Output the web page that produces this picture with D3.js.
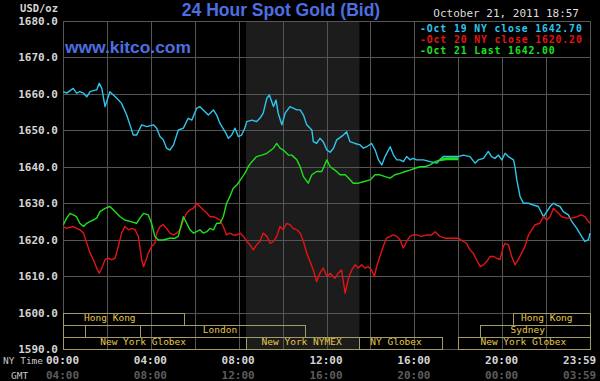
<!DOCTYPE html>
<html><head><meta charset="utf-8">
<script src="https://cdn.jsdelivr.net/npm/d3@7/dist/d3.min.js"></script>
<style>body{margin:0;background:#000;}svg{display:block}</style>
</head><body>
<svg id="c" width="600" height="381"></svg>
<script>
// ---------- data ----------
const titleText = "24 Hour Spot Gold (Bid)";
const siteText = "www.kitco.com";
const stampText = "October 21, 2011 18:57";
const unitText = "USD/oz";
const yTicks = [1590, 1600, 1610, 1620, 1630, 1640, 1650, 1660, 1670, 1680];
const xGrid = [0, 120, 240, 360, 480, 600, 720, 840, 960, 1080, 1200, 1320, 1440]; // minutes, NY time
const xTicks = [0, 240, 480, 720, 960, 1200, 1439];
const gmtOffset = 240;
const nymexWindow = [500, 810];
const legendLabels = ["Oct 19 NY close 1642.70", "Oct 20 NY close 1620.20", "Oct 21 Last 1642.00"];
// sessions: [label, row, start, end, labelAt] (minutes, NY time)
const sessions = [
  ["Hong Kong", 0, 0, 330, 128],
  ["", 1, 0, 60, 30],
  ["London", 1, 210, 660, 429],
  ["New York Globex", 2, 0, 500, 219],
  ["New York NYMEX", 2, 500, 810, 652],
  ["NY Globex", 2, 810, 1035, 910],
  ["New York Globex", 2, 1080, 1440, 1258],
  ["Sydney", 1, 1140, 1440, 1270],
  ["Hong Kong", 0, 1230, 1440, 1322]
];
// [minute, price]
const oct19 = [[1,1660.6],[10,1660.2],[28,1661.5],[37,1660.2],[46,1660.6],[56,1660.2],[65,1659.2],[74,1660.6],[83,1660.9],[92,1661.1],[99,1662.9],[106,1661.5],[115,1656.5],[128,1660.6],[147,1658.8],[160,1657.4],[174,1654.2],[183,1651.5],[192,1648.7],[201,1648.7],[215,1651.5],[229,1651.0],[247,1651.5],[256,1650.6],[265,1648.3],[274,1647.4],[283,1645.1],[292,1644.6],[302,1646.0],[315,1650.1],[329,1650.6],[342,1653.3],[352,1652.8],[365,1656.0],[374,1656.5],[388,1655.1],[397,1654.2],[411,1655.6],[420,1654.2],[429,1651.9],[443,1649.6],[452,1647.8],[461,1648.7],[470,1650.6],[479,1648.3],[488,1648.7],[497,1650.6],[502,1652.4],[516,1652.8],[529,1652.4],[538,1653.3],[547,1654.7],[557,1658.8],[564,1659.7],[575,1656.5],[582,1658.3],[588,1654.7],[598,1651.5],[607,1654.7],[620,1656.5],[639,1655.6],[648,1655.6],[657,1654.2],[666,1651.5],[680,1650.1],[684,1646.9],[693,1646.4],[702,1647.8],[711,1646.9],[721,1644.6],[730,1644.0],[739,1645.1],[748,1647.4],[766,1648.7],[775,1649.6],[784,1646.9],[798,1646.4],[812,1646.0],[821,1645.1],[830,1645.5],[843,1646.4],[853,1644.6],[862,1641.9],[871,1640.5],[880,1642.8],[894,1645.5],[903,1643.2],[912,1641.9],[921,1641.9],[930,1641.4],[939,1642.8],[948,1641.9],[957,1642.3],[966,1641.9],[985,1641.9],[1003,1641.4],[1021,1641.0],[1030,1641.9],[1039,1642.8],[1058,1642.8],[1080,1642.8],[1094,1643.2],[1112,1642.8],[1126,1641.0],[1135,1641.9],[1149,1642.3],[1162,1644.2],[1171,1642.8],[1180,1642.3],[1190,1643.2],[1199,1641.9],[1208,1643.7],[1217,1642.8],[1231,1641.9],[1235,1640.0],[1240,1636.4],[1249,1631.8],[1258,1630.0],[1272,1630.0],[1285,1629.5],[1299,1629.1],[1313,1626.3],[1322,1627.7],[1331,1629.1],[1340,1630.0],[1349,1629.5],[1358,1629.1],[1367,1627.7],[1381,1626.8],[1390,1625.0],[1404,1623.1],[1417,1620.9],[1426,1619.5],[1436,1620.0],[1440,1621.8]];
const oct20 = [[1,1623.6],[10,1623.1],[28,1623.6],[46,1622.7],[56,1621.8],[65,1619.0],[74,1616.3],[83,1614.5],[92,1612.2],[99,1610.8],[106,1612.2],[115,1614.5],[124,1614.9],[133,1614.5],[142,1614.9],[151,1618.1],[160,1621.8],[169,1623.6],[179,1622.7],[188,1623.1],[197,1622.7],[206,1620.9],[215,1614.5],[220,1612.6],[227,1614.5],[233,1616.3],[242,1618.1],[251,1619.0],[256,1621.8],[265,1623.6],[274,1624.1],[283,1623.1],[292,1621.8],[302,1621.3],[311,1621.8],[320,1622.7],[329,1625.4],[338,1627.3],[347,1628.2],[356,1628.6],[365,1630.0],[374,1629.1],[383,1628.2],[393,1627.3],[402,1626.3],[411,1626.3],[420,1625.9],[429,1625.4],[438,1623.6],[447,1621.3],[456,1621.8],[465,1621.3],[475,1621.3],[484,1621.8],[493,1620.9],[502,1619.5],[511,1618.6],[520,1617.2],[529,1618.6],[538,1619.5],[547,1621.8],[557,1620.9],[566,1619.0],[575,1619.5],[584,1620.9],[593,1623.6],[602,1622.7],[611,1624.5],[620,1624.1],[629,1623.1],[639,1622.7],[648,1621.8],[657,1619.5],[666,1616.3],[675,1614.0],[684,1611.7],[693,1608.5],[702,1610.8],[711,1612.2],[721,1609.9],[730,1610.8],[743,1609.4],[752,1610.8],[761,1611.7],[771,1605.3],[780,1609.4],[789,1611.7],[798,1613.1],[807,1612.2],[816,1613.1],[825,1612.2],[834,1612.6],[843,1611.7],[851,1609.9],[857,1612.6],[866,1615.4],[875,1618.1],[884,1620.4],[894,1620.9],[903,1621.3],[912,1620.9],[921,1619.9],[930,1617.7],[939,1619.5],[948,1620.9],[957,1621.3],[966,1621.3],[980,1620.9],[994,1621.3],[1007,1621.3],[1017,1622.2],[1030,1620.9],[1044,1620.4],[1058,1620.4],[1080,1620.4],[1094,1619.5],[1103,1619.0],[1112,1617.2],[1121,1616.3],[1130,1614.5],[1140,1612.6],[1149,1613.1],[1158,1614.0],[1167,1615.4],[1176,1615.4],[1185,1614.9],[1194,1614.5],[1203,1618.1],[1208,1619.0],[1217,1618.6],[1226,1615.4],[1235,1613.1],[1244,1614.5],[1253,1616.3],[1262,1618.1],[1272,1621.3],[1281,1622.7],[1290,1624.1],[1303,1624.5],[1313,1626.3],[1322,1625.4],[1331,1626.3],[1340,1628.6],[1349,1627.7],[1363,1626.3],[1376,1625.9],[1390,1625.9],[1404,1626.3],[1417,1626.8],[1426,1626.3],[1436,1624.9],[1440,1624.5]];
const oct21 = [[1,1624.1],[10,1625.9],[19,1627.2],[28,1626.8],[37,1626.3],[46,1624.5],[56,1623.6],[65,1624.5],[74,1625.0],[83,1625.4],[92,1625.9],[101,1627.7],[115,1628.6],[128,1629.1],[142,1627.7],[156,1626.3],[169,1625.4],[183,1625.0],[201,1624.5],[210,1625.9],[220,1627.2],[233,1626.8],[242,1624.5],[251,1620.9],[261,1619.9],[274,1619.9],[292,1620.4],[306,1620.4],[315,1620.9],[324,1624.5],[329,1626.3],[338,1624.5],[347,1622.7],[356,1621.8],[365,1622.2],[374,1622.7],[383,1621.8],[393,1622.2],[402,1623.1],[411,1622.7],[420,1624.5],[429,1624.5],[438,1626.3],[447,1630.0],[456,1631.8],[465,1634.1],[475,1635.0],[488,1636.9],[497,1638.2],[506,1640.0],[516,1641.4],[529,1642.8],[543,1643.2],[557,1643.7],[575,1645.1],[584,1646.4],[593,1645.1],[602,1644.6],[616,1643.2],[625,1643.2],[639,1641.9],[648,1640.0],[657,1637.3],[670,1635.5],[680,1637.8],[693,1638.7],[707,1638.7],[721,1641.9],[730,1640.0],[743,1639.1],[757,1637.8],[771,1637.8],[780,1636.9],[793,1635.5],[807,1635.5],[821,1635.9],[839,1636.4],[853,1637.8],[866,1637.8],[880,1637.3],[894,1636.9],[907,1637.8],[921,1638.2],[935,1638.7],[948,1639.1],[962,1639.6],[976,1640.0],[989,1640.0],[1003,1640.5],[1017,1641.4],[1030,1641.9]];
const oct21Closed = [[1030,1641.9],[1048,1642.2],[1080,1642.2]];

// ---------- drawing ----------
const svg = d3.select("#c");
const W = 600, H = 381;
svg.append("rect").attr("width", W).attr("height", H).attr("fill", "#000");
const x = d3.scaleLinear().domain([0, 1440]).range([63, 590]);
const y = d3.scaleLinear().domain([1590, 1680]).range([349, 21]);
const mono = "'DejaVu Sans Mono', 'Liberation Mono', monospace";
const sans = "'Liberation Sans', Arial, sans-serif";
const gridColor = "#555";
const colors = ["#2ec6ee", "#e41414", "#1ee01e"];

// NYMEX shading
svg.append("rect")
  .attr("x", x(nymexWindow[0])).attr("y", y(1680))
  .attr("width", x(nymexWindow[1]) - x(nymexWindow[0]))
  .attr("height", y(1590) - y(1680))
  .attr("fill", "#1c1c1c");

// grid
const snap = v => Math.round(v) + 0.5;
svg.append("g").selectAll("line").data(xGrid).join("line")
  .attr("x1", d => snap(x(d))).attr("x2", d => snap(x(d)))
  .attr("y1", y(1680)).attr("y2", y(1590))
  .attr("stroke", gridColor).attr("stroke-width", 1);
svg.append("g").selectAll("line").data(yTicks).join("line")
  .attr("y1", d => snap(y(d))).attr("y2", d => snap(y(d)))
  .attr("x1", x(0)).attr("x2", x(1440))
  .attr("stroke", gridColor).attr("stroke-width", 1);

// y axis labels
const yAxis = d3.axisLeft(y).tickValues(yTicks).tickSize(0).tickPadding(5).tickFormat(d3.format(".1f"));
const gy = svg.append("g").attr("transform", `translate(${x(0)},0)`).call(yAxis);
gy.select(".domain").remove();
gy.selectAll("text").attr("font-family", mono).attr("font-weight", "bold")
  .attr("font-size", "11px").attr("fill", "#d4d4d4");

svg.append("text").attr("x", 58).attr("y", 12).attr("text-anchor", "end")
  .attr("font-family", mono).attr("font-weight", "bold").attr("font-size", "10.5px")
  .attr("fill", "#d4d4d4").text(unitText);

// x axis labels (NY time and GMT)
const fmt = m => { m = ((m % 1440) + 1440) % 1440; return d3.format("02")(Math.floor(m / 60)) + ":" + d3.format("02")(m % 60); };
function xRow(yPos, offset, color) {
  const ax = d3.axisBottom(x).tickValues(xTicks).tickSize(0).tickPadding(0).tickFormat(d => fmt(d + offset));
  const g = svg.append("g").attr("transform", `translate(0,${yPos})`).call(ax);
  g.select(".domain").remove();
  g.selectAll("text").attr("font-family", mono).attr("font-weight", "bold")
    .attr("font-size", "11px").attr("fill", color).attr("dy", "0.35em").attr("y", 0)
    .attr("text-anchor", d => d === 1439 ? "end" : "middle")
    .attr("dx", d => d === 1439 ? 6 : -1);
}
xRow(360, 0, "#d4d4d4");
xRow(375, gmtOffset, "#5c5c5c");
svg.append("text").attr("x", 3).attr("y", 364).attr("font-family", mono)
  .attr("font-size", "9.5px").attr("fill", "#c8c8c8").text("NY Time");
svg.append("text").attr("x", 11).attr("y", 379).attr("font-family", mono)
  .attr("font-size", "9.5px").attr("fill", "#c8c8c8").text("GMT");

// sessions
const rowTop = r => y(1600) + r * (y(1590) - y(1600)) / 3;
const rowH = (y(1590) - y(1600)) / 3;
const sg = svg.append("g");
sessions.forEach(([label, row, s, e, at]) => {
  sg.append("rect").attr("x", snap(x(s))).attr("y", snap(rowTop(row)))
    .attr("width", Math.round(x(e)) - Math.round(x(s))).attr("height", Math.round(rowH))
    .attr("fill", "none").attr("stroke", "#a39c68").attr("stroke-width", 1);
  if (label) sg.append("text").attr("x", x(at)).attr("y", rowTop(row) + 8.6)
    .attr("text-anchor", "middle").attr("font-family", mono).attr("font-size", "9.5px")
    .attr("fill", "#e6c84a").text(label);
});

// lines
const line = d3.line().x(d => x(d[0])).y(d => y(d[1]));
[oct19, oct20, oct21].forEach((s, i) => {
  svg.append("path").datum(s).attr("d", line).attr("fill", "none")
    .attr("stroke", colors[i]).attr("stroke-width", 1.4).attr("stroke-linejoin", "round");
});
svg.append("path").datum(oct21Closed).attr("d", line).attr("fill", "none")
  .attr("stroke", colors[2]).attr("stroke-width", 3);

// legend
const lx = x(960), ly = y(1680);
svg.append("rect").attr("x", snap(lx)).attr("y", snap(ly)).attr("width", Math.round(x(1440) - lx))
  .attr("height", Math.round(y(1670) - y(1680))).attr("fill", "#000").attr("stroke", gridColor);
legendLabels.forEach((t, i) => {
  svg.append("text").attr("x", 420).attr("y", 31.5 + i * 11.4)
    .attr("font-family", mono).attr("font-weight", "bold").attr("font-size", "9.8px")
    .attr("letter-spacing", "0.88px")
    .attr("fill", colors[i]).text("-" + t);
});

// titles
svg.append("text").attr("x", 281).attr("y", 15.5).attr("text-anchor", "middle")
  .attr("font-family", sans).attr("font-weight", "bold").attr("font-size", "17.5px")
  .attr("fill", "#4d6fe0").text(titleText);
svg.append("text").attr("x", 65).attr("y", 52.5)
  .attr("font-family", sans).attr("font-weight", "bold").attr("font-size", "17.4px")
  .attr("fill", "#4d6fe0").text(siteText);
svg.append("text").attr("x", 579).attr("y", 17).attr("text-anchor", "end")
  .attr("font-family", mono).attr("font-size", "11px")
  .attr("fill", "#dcdcdc").text(stampText);
</script>
</body></html>
